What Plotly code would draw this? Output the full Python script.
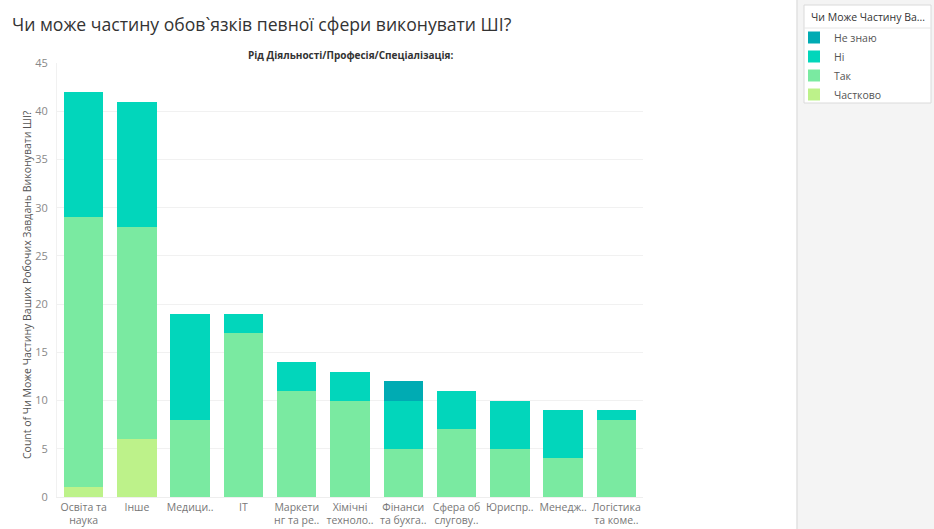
import plotly.graph_objects as go

# Categories (field of activity) and answer counts per category
categories = [
    "Освіта та<br>наука", "Інше", "Медици..", "IT", "Маркети<br>нг та ре..",
    "Хімічні<br>техноло..", "Фінанси<br>та бухга..", "Сфера об<br>слугову..",
    "Юриспр..", "Менедж..", "Логістика<br>та коме..",
]
chastkovo = [1, 6, 0, 0, 0, 0, 0, 0, 0, 0, 0]
tak = [28, 22, 8, 17, 11, 10, 5, 7, 5, 4, 8]
ni = [13, 13, 11, 2, 3, 3, 5, 4, 5, 5, 1]
ne_znayu = [0, 0, 0, 0, 0, 0, 2, 0, 0, 0, 0]

series = [
    ("Частково", chastkovo, "#bdf28a"),
    ("Так", tak, "#7aeaa1"),
    ("Ні", ni, "#02d6bb"),
    ("Не знаю", ne_znayu, "#00abb3"),
]

W, H = 934, 529
L, R, T, B = 57, 643, 63, 497
PW, PH = R - L, B - T


def px(x):
    return (x - L) / PW


def py(y):
    return (B - y) / PH


FONT = "Open Sans"

fig = go.Figure()
for name, vals, color in series:
    fig.add_trace(go.Bar(
        x=categories, y=vals, name=name,
        marker=dict(color=color, line=dict(width=0)),
    ))

fig.update_layout(
    width=W, height=H,
    margin=dict(l=L, r=W - R, t=T, b=H - B, pad=0, autoexpand=False),
    barmode="stack", bargap=0.26,
    paper_bgcolor="white", plot_bgcolor="white",
    font=dict(family=FONT, color="#666666", size=11),
    title=dict(
        text="Чи може частину обов`язків певної сфери виконувати ШІ?",
        x=12 / W, xref="container", xanchor="left",
        y=1 - 25 / H, yref="container", yanchor="middle",
        font=dict(family=FONT, size=17.6, color="#333333"),
    ),
    legend=dict(
        traceorder="reversed",
        x=px(794), xanchor="left", y=py(23), yanchor="top",
        bgcolor="rgba(0,0,0,0)", borderwidth=0,
        font=dict(family=FONT, size=10.5, color="#555555"),
        tracegroupgap=0,
    ),
    xaxis=dict(
        automargin=False,
        showgrid=False, showline=True, linecolor="#eeeeee",
        tickfont=dict(family=FONT, size=10.5, color="#777777"),
        ticks="", ticklabelstandoff=0,
    ),
    yaxis=dict(
        automargin=False,
        range=[0, 45], dtick=5, showgrid=True, gridcolor="#f1f1f1",
        zeroline=False, showline=True, linecolor="#f1f1f1",
        tickfont=dict(family=FONT, size=11, color="#888888"),
        ticks="", ticklabelstandoff=6,
    ),
    annotations=[
        dict(text="<b>Рід Діяльності/Професія/Спеціалізація:</b>",
             x=0.5, y=py(55), xref="paper", yref="paper",
             showarrow=False, xanchor="center", yanchor="middle",
             font=dict(family=FONT, size=10, color="#333333")),
        dict(text="Count of Чи Може Частину Ваших Робочих Завдань Виконувати ШІ?",
             x=px(27), y=py(285), xref="paper", yref="paper",
             showarrow=False, textangle=-90, xanchor="center", yanchor="middle",
             font=dict(family=FONT, size=10.5, color="#555555")),
        # legend heading inside the card
        dict(text="Чи Може Частину Ва...",
             x=px(809), y=py(17), xref="paper", yref="paper",
             showarrow=False, xanchor="left", yanchor="middle",
             font=dict(family=FONT, size=10.5, color="#333333")),
    ],
    shapes=[
        # side panel behind the legend
        dict(type="rect", xref="paper", yref="paper",
             x0=px(797), x1=px(W + 2), y0=py(H + 2), y1=py(-2),
             fillcolor="#f4f4f4", line=dict(width=0), layer="below"),
        dict(type="line", xref="paper", yref="paper",
             x0=px(797), x1=px(797), y0=py(H + 2), y1=py(-2),
             line=dict(color="#e2e2e2", width=1.5), layer="below"),
        # legend card
        dict(type="rect", xref="paper", yref="paper",
             x0=px(804), x1=px(931), y0=py(103), y1=py(5),
             fillcolor="white", line=dict(color="#dadada", width=1), layer="below"),
        dict(type="line", xref="paper", yref="paper",
             x0=px(804), x1=px(931), y0=py(28), y1=py(28),
             line=dict(color="#e6e6e6", width=1), layer="below"),
    ],
)

fig.write_html("out.html")
